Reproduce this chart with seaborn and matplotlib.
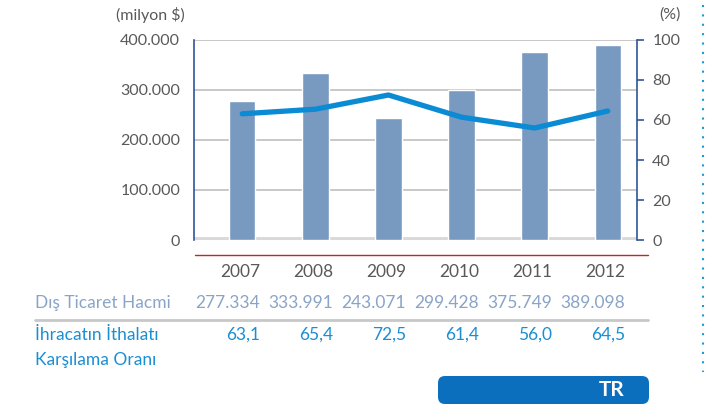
import numpy as np
import pandas as pd
import matplotlib
matplotlib.use("Agg")
import matplotlib.pyplot as plt
from matplotlib.ticker import FuncFormatter
from matplotlib.patches import FancyBboxPatch
from matplotlib.lines import Line2D
from matplotlib.transforms import IdentityTransform
import seaborn as sns

years = ["2007", "2008", "2009", "2010", "2011", "2012"]
trade_volume = [277334, 333991, 243071, 299428, 375749, 389098]
coverage_ratio = [63.1, 65.4, 72.5, 61.4, 56.0, 64.5]
volume_labels = ["277.334", "333.991", "243.071", "299.428", "375.749", "389.098"]
ratio_labels = ["63,1", "65,4", "72,5", "61,4", "56,0", "64,5"]

sns.set_style("white")
plt.rcParams["font.family"] = ["Lato", "DejaVu Sans"]

BAR = "#789ac1"
LINE = "#0a8bd3"
SPINE = "#2f5597"
GREY = "#595959"

fig = plt.figure(figsize=(7.08, 4.11), dpi=100)
ax = fig.add_axes([194 / 708, 1 - 240 / 411, 443 / 708, 200 / 411])

df = pd.DataFrame({"year": years, "volume": trade_volume, "ratio": coverage_ratio})

# floor band under the bars
ax.axhline(0, color="#d9d9d9", lw=5, zorder=1)
sns.barplot(data=df, x="year", y="volume", color=BAR, width=0.36,
            saturation=1, ax=ax, zorder=2)
ax.set_ylim(0, 400000)
ax.set_yticks([0, 100000, 200000, 300000, 400000])
ax.yaxis.set_major_formatter(FuncFormatter(lambda v, p: f"{int(v):,}".replace(",", ".")))
ax.grid(axis="y", color="#bfbfbf", lw=1.2, zorder=0)
ax.set_axisbelow(True)
ax.set_xlabel("")
ax.set_ylabel("")
ax.set_xticks([])
ax.tick_params(axis="y", length=0, labelsize=11.5, labelcolor=GREY, pad=10)
for s in ["top", "bottom", "right"]:
    ax.spines[s].set_visible(False)
ax.spines["left"].set_color(SPINE)
ax.spines["left"].set_linewidth(1.2)

ax2 = ax.twinx()
sns.lineplot(x=np.arange(len(years)), y=df["ratio"], ax=ax2, color=LINE,
             lw=3.8, solid_capstyle="round", solid_joinstyle="round", zorder=3)
ax2.set_ylim(0, 100)
ax2.set_yticks([0, 20, 40, 60, 80, 100])
ax2.set_ylabel("")
ax2.tick_params(axis="y", length=5, width=1.2, color=SPINE, labelsize=11.5,
                labelcolor=GREY, pad=6)
for s in ["top", "bottom", "left"]:
    ax2.spines[s].set_visible(False)
ax2.spines["right"].set_color(SPINE)
ax2.spines["right"].set_linewidth(1.2)
ax.set_xlim(-0.66, 5.40)

fig.text(150 / 708, 1 - 15 / 411, "(milyon $)", ha="center", va="center",
         fontsize=11.5, color=GREY)
fig.text(670 / 708, 1 - 15 / 411, "(%)", ha="center", va="center",
         fontsize=11.5, color=GREY)

# table below the chart
fig.add_artist(Line2D([195 / 708, 648 / 708], [1 - 255 / 411] * 2,
                      color="#c0272d", lw=1))
fig.add_artist(Line2D([35 / 708, 648 / 708], [1 - 320 / 411] * 2,
                      color="#c8c8c8", lw=2))
for i in range(len(years)):
    xr = (260 + 73 * i) / 708
    fig.text(xr, 1 - 272 / 411, years[i], ha="right", va="center",
             fontsize=12.5, color=GREY)
    fig.text(xr, 1 - 303 / 411, volume_labels[i], ha="right", va="center",
             fontsize=12.5, color="#8aa4c8")
    fig.text(xr, 1 - 335 / 411, ratio_labels[i], ha="right", va="center",
             fontsize=12.5, color="#1a8ed3")
fig.text(35 / 708, 1 - 303 / 411, "Dış Ticaret Hacmi", ha="left", va="center",
         fontsize=12.5, color="#8aa4c8")
fig.text(35 / 708, 1 - 335 / 411, "İhracatın İthalatı", ha="left", va="center",
         fontsize=12.5, color="#1a8ed3")
fig.text(35 / 708, 1 - 360 / 411, "Karşılama Oranı", ha="left", va="center",
         fontsize=12.5, color="#1a8ed3")

box = FancyBboxPatch((438, 411 - 404), 211, 28,
                     boxstyle="round,pad=0,rounding_size=7",
                     transform=IdentityTransform(), facecolor="#0b6fbd",
                     edgecolor="none")
fig.add_artist(box)
fig.text(612 / 708, 1 - 390 / 411, "TR", ha="center", va="center",
         fontsize=15, fontweight="bold", color="white")

fig.add_artist(Line2D([703 / 708, 703 / 708], [1 - 5 / 411, 1 - 372 / 411],
                      color="#1a9ad6", lw=1.5, linestyle=(0, (1, 3.5))))

fig.savefig("out.png", dpi=100)
